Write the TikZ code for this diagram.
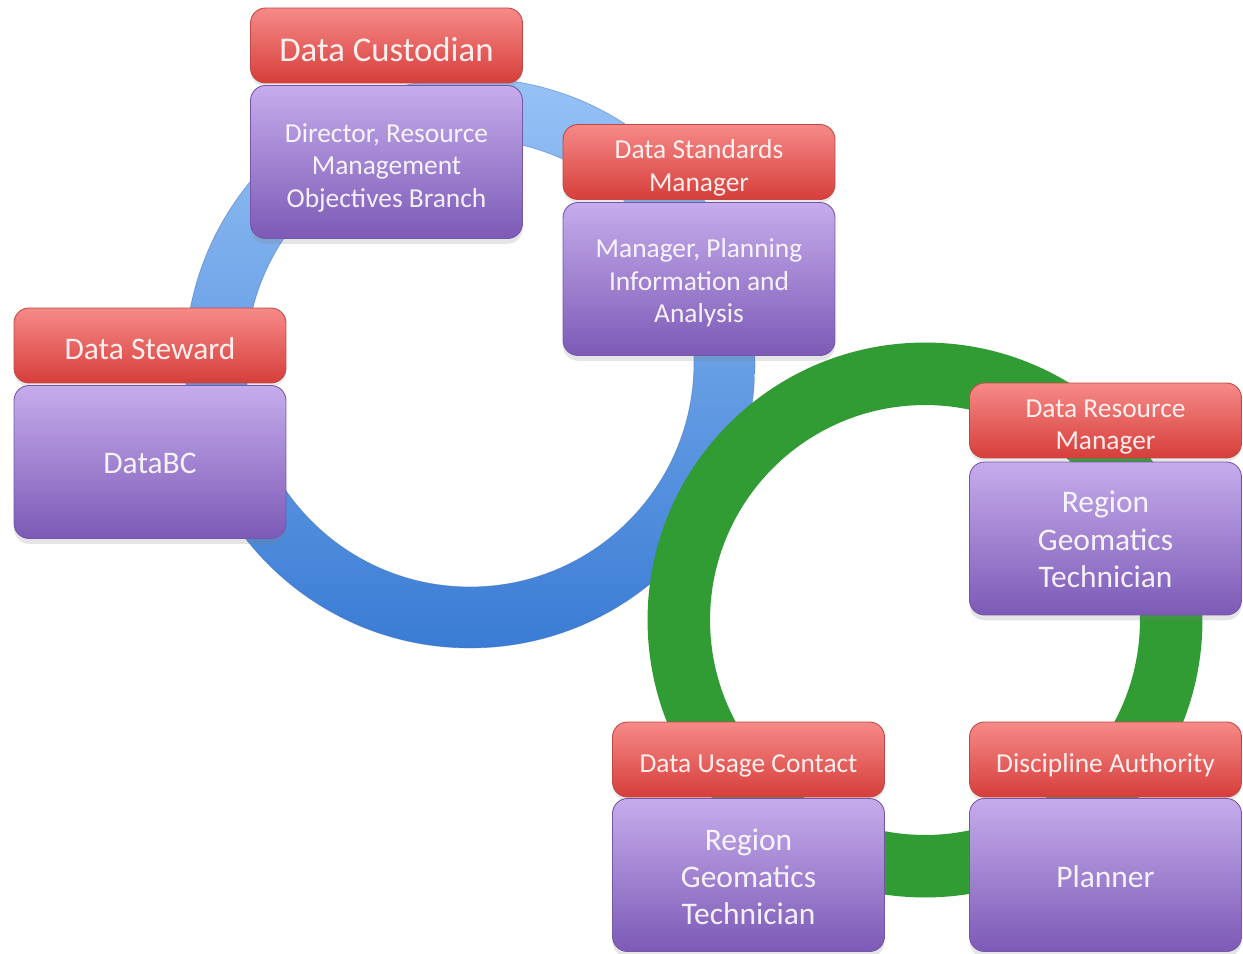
\documentclass[tikz,border=0pt]{standalone}
\usepackage{fontspec}
\setmainfont{Carlito}
\usetikzlibrary{shadows}
\definecolor{redTop}{RGB}{246,138,136}
\definecolor{redBot}{RGB}{214,62,58}
\definecolor{redLine}{RGB}{192,72,68}
\definecolor{purTop}{RGB}{198,172,236}
\definecolor{purBot}{RGB}{124,90,182}
\definecolor{purLine}{RGB}{118,86,168}
\definecolor{blueTop}{RGB}{150,194,246}
\definecolor{blueBot}{RGB}{58,124,212}
\definecolor{blueLine}{RGB}{60,110,190}
\definecolor{ringGreen}{RGB}{50,156,52}
\begin{document}
\begin{tikzpicture}[x=0.02cm,y=-0.02cm,
  rolebox/.style={rectangle, rounded corners=0.3cm, minimum width=5.44cm, minimum height=1.5cm,
    top color=redTop, bottom color=redBot, draw=redLine, line width=0.5pt, inner sep=0pt,
    drop shadow={opacity=0.18, shadow xshift=0pt, shadow yshift=-2pt}},
  personbox/.style={rectangle, rounded corners=0.3cm, minimum width=5.44cm, minimum height=3.06cm,
    top color=purTop, bottom color=purBot, draw=purLine, line width=0.5pt, inner sep=0pt,
    drop shadow={opacity=0.2, shadow xshift=0pt, shadow yshift=-3pt}},
  boxtext/.style={text=white, text opacity=0.9, align=center, inner sep=0pt},
  bigtxt/.style={boxtext, font=\fontsize{19.8}{24}\selectfont},
  midtxt/.style={boxtext, font=\fontsize{17.9}{21.3}\selectfont},
  smalltxt/.style={boxtext, font=\fontsize{15.6}{18.4}\selectfont}]
\useasboundingbox (0,0) rectangle (1243,953);
\fill[white] (0,0) rectangle (1243,953);

% rings
\coordinate (bc) at (470,363);
\coordinate (gc) at (925,620);
\path[top color=blueTop, bottom color=blueBot, even odd rule]
  (bc) circle (5.7cm) (bc) circle (4.48cm);
\draw[blueLine, line width=0.4pt, opacity=0.5] (bc) circle (5.7cm) (bc) circle (4.48cm);
\fill[ringGreen, even odd rule] (gc) circle (5.55cm) (gc) circle (4.3cm);

% boxes
\node[rolebox] (r1) at (386.5,45.5) {};
\node[personbox] (p1) at (386.5,162) {};
\node[rolebox] (r2) at (699,162) {};
\node[personbox] (p2) at (699,279) {};
\node[rolebox] (r3) at (150,345.5) {};
\node[personbox] (p3) at (150,462) {};
\node[rolebox] (r4) at (1105.5,420.5) {};
\node[personbox] (p4) at (1105.5,538.5) {};
\node[rolebox] (r5) at (748.5,759.5) {};
\node[personbox] (p5) at (748.5,875) {};
\node[rolebox] (r6) at (1105.5,759.5) {};
\node[personbox] (p6) at (1105.5,875) {};

% texts
\node[bigtxt] (t1) at ([yshift=-2.2pt]r1.center) {Data Custodian};
\node[smalltxt] (u1) at ([yshift=-3.2pt]p1.center) {Director, Resource\\Management\\Objectives Branch};
\node[smalltxt] (t2) at ([yshift=-3.4pt]r2.center) {Data Standards\\Manager};
\node[smalltxt] (u2) at ([yshift=-2.2pt]p2.center) {Manager, Planning\\Information and\\Analysis};
\node[midtxt] (t3) at ([yshift=-1.6pt]r3.center) {Data Steward};
\node[midtxt] (u3) at ([yshift=-0.6pt]p3.center) {DataBC};
\node[smalltxt] (t4) at ([yshift=-3.8pt]r4.center) {Data Resource\\Manager};
\node[midtxt] (u4) at ([yshift=-0.6pt]p4.center) {Region\\Geomatics\\Technician};
\node[smalltxt] (t5) at ([yshift=-3.4pt]r5.center) {Data Usage Contact};
\node[midtxt] (u5) at ([yshift=-1pt]p5.center) {Region\\Geomatics\\Technician};
\node[smalltxt] (t6) at ([yshift=-3.4pt]r6.center) {Discipline Authority};
\node[midtxt] (u6) at ([yshift=-1pt]p6.center) {Planner};
\end{tikzpicture}
\end{document}
